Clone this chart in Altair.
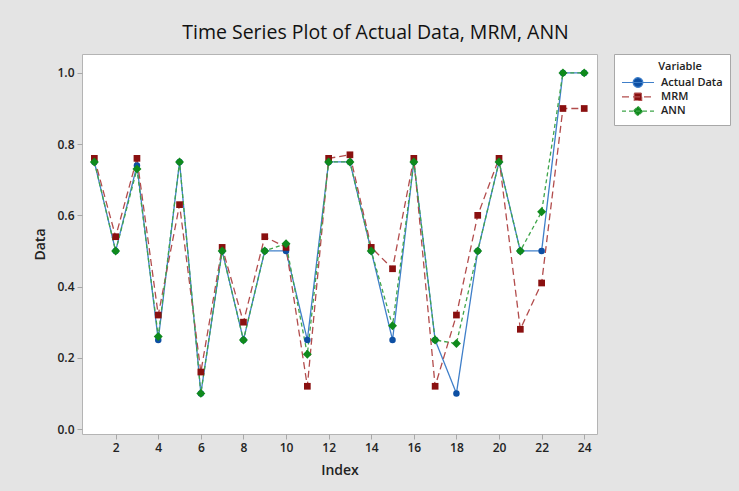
import altair as alt
import pandas as pd

index = list(range(1, 25))
actual = [0.75, 0.50, 0.74, 0.25, 0.75, 0.10, 0.50, 0.25, 0.50, 0.50, 0.25, 0.75,
          0.75, 0.50, 0.25, 0.75, 0.25, 0.10, 0.50, 0.75, 0.50, 0.50, 1.00, 1.00]
mrm = [0.76, 0.54, 0.76, 0.32, 0.63, 0.16, 0.51, 0.30, 0.54, 0.51, 0.12, 0.76,
       0.77, 0.51, 0.45, 0.76, 0.12, 0.32, 0.60, 0.76, 0.28, 0.41, 0.90, 0.90]
ann = [0.75, 0.50, 0.73, 0.26, 0.75, 0.10, 0.50, 0.25, 0.50, 0.52, 0.21, 0.75,
       0.75, 0.50, 0.29, 0.75, 0.25, 0.24, 0.50, 0.75, 0.50, 0.61, 1.00, 1.00]
series_names = ["Actual Data", "MRM", "ANN"]
x_ticks = [2, 4, 6, 8, 10, 12, 14, 16, 18, 20, 22, 24]
y_ticks = [0.0, 0.2, 0.4, 0.6, 0.8, 1.0]

frames = []
for name, vals in zip(series_names, [actual, mrm, ann]):
    frames.append(pd.DataFrame({"Index": index, "Data": vals, "Variable": name}))
df = pd.concat(frames, ignore_index=True)

marker_colors = ["#0d4fa3", "#8a1010", "#0f8a1c"]
line_colors = ["#3f7fc9", "#b24c4c", "#3fa54a"]
dashes = [[1, 0], [7, 4], [4, 3]]
shapes = ["circle", "square", "diamond"]
marker_sizes = [42, 45, 80]
legend_paths = [
    "M-1,0H1M-0.3,0A0.3,0.3,0,1,1,0.3,0A0.3,0.3,0,1,1,-0.3,0Z",
    "M-1,0H1M-0.23,-0.23H0.23V0.23H-0.23Z",
    "M-1,0H1M0,-0.3L0.3,0L0,0.3L-0.3,0Z",
]

FONT = "Open Sans"

x_enc = alt.X("Index:Q", scale=alt.Scale(domain=[0.42, 24.6], nice=False, zero=False),
              axis=alt.Axis(values=x_ticks, title="Index", grid=False, format="d"))
y_enc = alt.Y("Data:Q", scale=alt.Scale(domain=[-0.014, 1.053], nice=False, zero=False),
              axis=alt.Axis(values=y_ticks, title="Data", grid=False, format=".1f"))

fill_scale = alt.Scale(domain=series_names, range=marker_colors)
stroke_scale = alt.Scale(domain=series_names, range=line_colors)
dash_scale = alt.Scale(domain=series_names, range=dashes)
shape_scale = alt.Scale(domain=series_names, range=legend_paths)

base = alt.Chart(df)

leg = alt.Legend(
    title="\u200b" + "\u00a0" * 13 + "Variable",
    orient="none", legendX=532, legendY=0,
    fillColor="white", strokeColor="#a8a8a8", padding=7,
    symbolSize=1024, symbolStrokeWidth=1.2, symbolOpacity=1,
    symbolFillColor="#888888", symbolStrokeColor="#888888",
    clipHeight=13, rowPadding=1.3, labelOffset=6,
    titleFont=FONT, titleFontSize=11, titleFontWeight=600, titleColor="#222",
    labelFont=FONT, labelFontSize=11, labelFontWeight=600, labelColor="#222",
    titlePadding=4,
)

# legend-only layer (first, so its legend settings win when merged)
legend_layer = base.transform_filter("false").mark_point(opacity=0).encode(
    x=x_enc, y=y_enc,
    fill=alt.Fill("Variable:N", scale=fill_scale, legend=leg),
    stroke=alt.Stroke("Variable:N", scale=stroke_scale, legend=leg),
    shape=alt.Shape("Variable:N", scale=shape_scale, legend=leg),
    strokeDash=alt.StrokeDash("Variable:N", scale=dash_scale, legend=leg),
)

lines = base.mark_line(strokeWidth=1.3).encode(
    x=x_enc, y=y_enc,
    stroke=alt.Stroke("Variable:N", scale=stroke_scale, legend=None),
    strokeDash=alt.StrokeDash("Variable:N", scale=dash_scale, legend=None),
    detail="Variable:N",
    order="Index:Q",
)

point_layers = []
for name, shp, sz in zip(series_names, shapes, marker_sizes):
    point_layers.append(
        base.transform_filter(alt.datum.Variable == name)
        .mark_point(filled=True, opacity=1, shape=shp, size=sz)
        .encode(x=x_enc, y=y_enc,
                fill=alt.Fill("Variable:N", scale=fill_scale, legend=None))
    )

chart = alt.layer(legend_layer, lines, *point_layers).properties(
    width=515, height=380,
    title=alt.Title("Time Series Plot of Actual Data, MRM, ANN", anchor="middle",
                    dx=36, fontSize=19.5, font=FONT, fontWeight="normal", color="#111", offset=10),
    autosize=alt.AutoSizeParams(type="none"),
    padding={"left": 82, "top": 54, "right": 142, "bottom": 57},
).configure(
    background="#e4e4e4",
).configure_view(
    fill="white", stroke="#b4b4b4", strokeWidth=1,
).configure_axis(
    domain=False, tickColor="#a8a8a8", tickSize=5,
    labelFont=FONT, labelFontSize=12, labelFontWeight=600, labelColor="#222",
    titleFont=FONT, titleFontSize=14, titleFontWeight=600, titleColor="#222",
    labelPadding=3,
).configure_axisY(titlePadding=9).configure_axisX(titlePadding=10)

chart.save("out.html", embed_options={"renderer": "svg", "actions": False})
